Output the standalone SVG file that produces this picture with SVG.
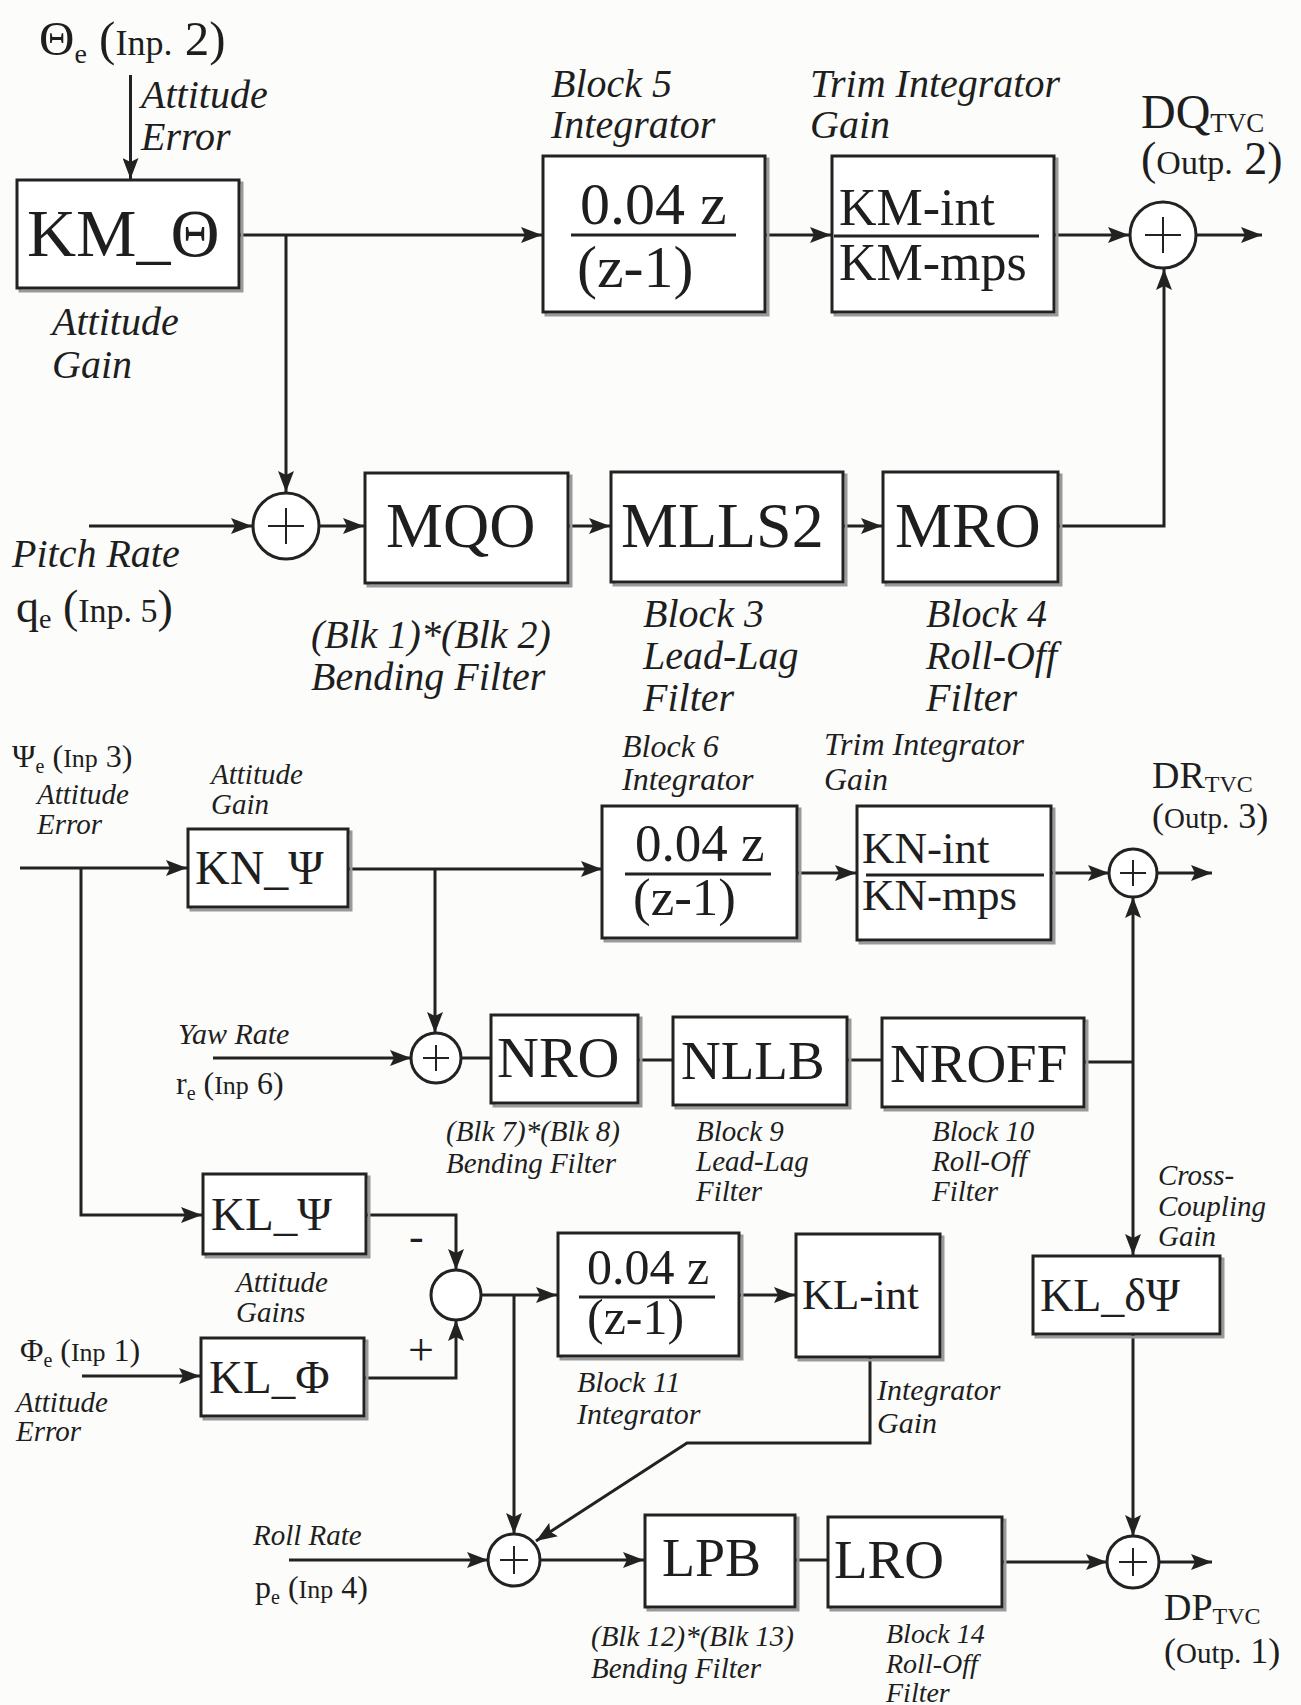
<svg xmlns="http://www.w3.org/2000/svg" width="1301" height="1705" viewBox="0 0 1301 1705">
<style>
.bx{fill:#ffffff;stroke:#222;stroke-width:3}
.sh{fill:none;stroke:#9a9a9a;stroke-width:3}
.ln{fill:none;stroke:#222;stroke-width:3}
.fr{stroke:#222;stroke-width:3}
.sum{fill:#fff;stroke:#222;stroke-width:3}
.pl{stroke:#222;stroke-width:2}
.t{font-family:"Liberation Serif","Times New Roman",serif;fill:#1e1e1e}
.i{font-family:"Liberation Serif","Times New Roman",serif;font-style:italic;fill:#1e1e1e}
</style>
<defs>
<marker id="ar" markerUnits="userSpaceOnUse" markerWidth="22" markerHeight="16" refX="21" refY="8" orient="auto">
<path d="M0,0 L21,8 L0,16 L4,8 z" fill="#222"/>
</marker>
</defs>
<rect x="0" y="0" width="1301" height="1705" fill="#fcfcfa"/>

<g id="connectors">
<!-- top -->
<line class="ln" x1="130.5" y1="75" x2="130.5" y2="179" marker-end="url(#ar)"/>
<line class="ln" x1="239" y1="235" x2="542" y2="235" marker-end="url(#ar)"/>
<line class="ln" x1="286" y1="235" x2="286" y2="492" marker-end="url(#ar)"/>
<line class="ln" x1="765" y1="235" x2="831" y2="235" marker-end="url(#ar)"/>
<line class="ln" x1="1054" y1="235" x2="1129" y2="235" marker-end="url(#ar)"/>
<line class="ln" x1="1197" y1="235" x2="1262" y2="235" marker-end="url(#ar)"/>
<polyline class="ln" points="1058,526 1164,526 1164,269" marker-end="url(#ar)"/>
<!-- pitch -->
<line class="ln" x1="89" y1="526" x2="252" y2="526" marker-end="url(#ar)"/>
<line class="ln" x1="320" y1="526" x2="364" y2="526" marker-end="url(#ar)"/>
<line class="ln" x1="568" y1="526" x2="610" y2="526" marker-end="url(#ar)"/>
<line class="ln" x1="843" y1="526" x2="882" y2="526" marker-end="url(#ar)"/>
<!-- yaw -->
<line class="ln" x1="20" y1="868" x2="187" y2="868" marker-end="url(#ar)"/>
<polyline class="ln" points="81,868 81,1215 202,1215" marker-end="url(#ar)"/>
<line class="ln" x1="348" y1="869" x2="602" y2="869" marker-end="url(#ar)"/>
<line class="ln" x1="435" y1="869" x2="435" y2="1033" marker-end="url(#ar)"/>
<line class="ln" x1="797" y1="873" x2="856" y2="873" marker-end="url(#ar)"/>
<line class="ln" x1="1051" y1="873" x2="1109" y2="873" marker-end="url(#ar)"/>
<line class="ln" x1="1157" y1="873" x2="1212" y2="873" marker-end="url(#ar)"/>
<line class="ln" x1="213" y1="1058" x2="411" y2="1058" marker-end="url(#ar)"/>
<line class="ln" x1="461" y1="1058" x2="491" y2="1058"/>
<line class="ln" x1="638" y1="1060" x2="673" y2="1060"/>
<line class="ln" x1="847" y1="1060" x2="882" y2="1060"/>
<line class="ln" x1="1084" y1="1062" x2="1133" y2="1062"/>
<line class="ln" x1="1133" y1="1062" x2="1133" y2="897" marker-end="url(#ar)"/>
<line class="ln" x1="1133" y1="1062" x2="1133" y2="1255" marker-end="url(#ar)"/>
<!-- roll -->
<polyline class="ln" points="366,1215 456,1215 456,1270" marker-end="url(#ar)"/>
<polyline class="ln" points="364,1378 456,1378 456,1320" marker-end="url(#ar)"/>
<line class="ln" x1="82" y1="1376" x2="200" y2="1376" marker-end="url(#ar)"/>
<line class="ln" x1="481" y1="1295" x2="557" y2="1295" marker-end="url(#ar)"/>
<line class="ln" x1="514" y1="1295" x2="514" y2="1534" marker-end="url(#ar)"/>
<line class="ln" x1="740" y1="1295" x2="795" y2="1295" marker-end="url(#ar)"/>
<polyline class="ln" points="870,1357 870,1443 687,1443 536,1541" marker-end="url(#ar)"/>
<line class="ln" x1="289" y1="1560" x2="488" y2="1560" marker-end="url(#ar)"/>
<line class="ln" x1="540" y1="1560" x2="644" y2="1560" marker-end="url(#ar)"/>
<line class="ln" x1="795" y1="1560" x2="828" y2="1560"/>
<line class="ln" x1="1002" y1="1562" x2="1107" y2="1562" marker-end="url(#ar)"/>
<line class="ln" x1="1159" y1="1562" x2="1212" y2="1562" marker-end="url(#ar)"/>
<line class="ln" x1="1133" y1="1334" x2="1133" y2="1536" marker-end="url(#ar)"/>
</g>

<g id="in-theta">
<text class="t" x="39" y="55"><tspan font-size="49">Θ</tspan><tspan font-size="28" dy="8">e</tspan><tspan font-size="49" dy="-8"> (</tspan><tspan font-size="36">Inp.</tspan><tspan font-size="49"> 2)</tspan></text>
<text class="i" font-size="40" x="141" y="108">Attitude</text>
<text class="i" font-size="40" x="141" y="150">Error</text>
</g>

<g id="KM_Theta">
<rect class="sh" x="20" y="183" width="222" height="108"/>
<rect class="bx" x="17" y="180" width="222" height="108"/>
<text class="t" font-size="68" x="27" y="256">KM_Θ</text>
<text class="i" font-size="40" x="52" y="335">Attitude</text>
<text class="i" font-size="40" x="52" y="378">Gain</text>
</g>

<g id="block5">
<rect class="sh" x="546" y="159" width="222" height="156"/>
<rect class="bx" x="543" y="156" width="222" height="156"/>
<text class="t" font-size="60" x="580" y="224">0.04 z</text>
<line class="fr" x1="571" y1="235" x2="736" y2="235"/>
<text class="t" font-size="60" x="577" y="287">(z-1)</text>
<text class="i" font-size="40" x="551" y="97">Block 5</text>
<text class="i" font-size="40" x="551" y="138">Integrator</text>
</g>

<g id="KM_int">
<rect class="sh" x="835" y="159" width="222" height="156"/>
<rect class="bx" x="832" y="156" width="222" height="156"/>
<text class="t" font-size="52" x="839" y="225">KM-int</text>
<line class="fr" x1="834" y1="236" x2="1039" y2="236"/>
<text class="t" font-size="52" x="839" y="280">KM-mps</text>
<text class="i" font-size="40" x="810" y="97">Trim Integrator</text>
<text class="i" font-size="40" x="810" y="138">Gain</text>
</g>

<g id="sum-DQ">
<circle class="sum" cx="1163" cy="235" r="33"/>
<line class="pl" x1="1145" y1="235" x2="1181" y2="235"/>
<line class="pl" x1="1163" y1="217" x2="1163" y2="253"/>
<text class="t" x="1141" y="128"><tspan font-size="48">DQ</tspan><tspan font-size="27" dy="4">TVC</tspan></text>
<text class="t" x="1141" y="174"><tspan font-size="46">(</tspan><tspan font-size="34">Outp.</tspan><tspan font-size="46"> 2)</tspan></text>
</g>

<g id="sum-pitch">
<circle class="sum" cx="286" cy="526" r="33"/>
<line class="pl" x1="268" y1="526" x2="304" y2="526"/>
<line class="pl" x1="286" y1="508" x2="286" y2="544"/>
<text class="i" font-size="40" x="12" y="567">Pitch Rate</text>
<text class="t" x="16" y="622"><tspan font-size="46">q</tspan><tspan font-size="28" dy="6">e</tspan><tspan font-size="46" dy="-6"> (</tspan><tspan font-size="34">Inp. 5</tspan><tspan font-size="46">)</tspan></text>
</g>

<g id="MQO">
<rect class="sh" x="368" y="476" width="203" height="110"/>
<rect class="bx" x="365" y="473" width="203" height="110"/>
<text class="t" font-size="64" x="386" y="547">MQO</text>
<text class="i" font-size="40" x="311" y="648">(Blk 1)*(Blk 2)</text>
<text class="i" font-size="40" x="311" y="690">Bending Filter</text>
</g>

<g id="MLLS2">
<rect class="sh" x="614" y="475" width="232" height="110"/>
<rect class="bx" x="611" y="472" width="232" height="110"/>
<text class="t" font-size="64" x="621" y="547">MLLS2</text>
<text class="i" font-size="40" x="643" y="627">Block 3</text>
<text class="i" font-size="40" x="643" y="669">Lead-Lag</text>
<text class="i" font-size="40" x="643" y="711">Filter</text>
</g>

<g id="MRO">
<rect class="sh" x="886" y="475" width="175" height="110"/>
<rect class="bx" x="883" y="472" width="175" height="110"/>
<text class="t" font-size="64" x="895" y="547">MRO</text>
<text class="i" font-size="40" x="926" y="627">Block 4</text>
<text class="i" font-size="40" x="926" y="669">Roll-Off</text>
<text class="i" font-size="40" x="926" y="711">Filter</text>
</g>

<g id="in-psi">
<text class="t" x="12" y="767"><tspan font-size="32">Ψ</tspan><tspan font-size="20" dy="6">e</tspan><tspan font-size="32" dy="-6"> (</tspan><tspan font-size="26">Inp</tspan><tspan font-size="32"> 3)</tspan></text>
<text class="i" font-size="29" x="37" y="804">Attitude</text>
<text class="i" font-size="29" x="37" y="834">Error</text>
</g>

<g id="KN_Psi">
<rect class="sh" x="191" y="832" width="160" height="78"/>
<rect class="bx" x="188" y="829" width="160" height="78"/>
<text class="t" font-size="48" x="195" y="884">KN_Ψ</text>
<text class="i" font-size="29" x="211" y="784">Attitude</text>
<text class="i" font-size="29" x="211" y="814">Gain</text>
</g>

<g id="block6">
<rect class="sh" x="605" y="809" width="195" height="132"/>
<rect class="bx" x="602" y="806" width="195" height="132"/>
<text class="t" font-size="53" x="635" y="861">0.04 z</text>
<line class="fr" x1="625" y1="874" x2="771" y2="874"/>
<text class="t" font-size="53" x="633" y="915">(z-1)</text>
<text class="i" font-size="32" x="622" y="757">Block 6</text>
<text class="i" font-size="32" x="622" y="790">Integrator</text>
</g>

<g id="KN_int">
<rect class="sh" x="860" y="809" width="194" height="134"/>
<rect class="bx" x="857" y="806" width="194" height="134"/>
<text class="t" font-size="45" x="862" y="863">KN-int</text>
<line class="fr" x1="866" y1="875" x2="1044" y2="875"/>
<text class="t" font-size="45" x="862" y="910">KN-mps</text>
<text class="i" font-size="32" x="824" y="755">Trim Integrator</text>
<text class="i" font-size="32" x="824" y="790">Gain</text>
</g>

<g id="sum-DR">
<circle class="sum" cx="1133" cy="873" r="24"/>
<line class="pl" x1="1120" y1="873" x2="1146" y2="873"/>
<line class="pl" x1="1133" y1="860" x2="1133" y2="886"/>
<text class="t" x="1152" y="788"><tspan font-size="38">DR</tspan><tspan font-size="24" dy="4">TVC</tspan></text>
<text class="t" x="1152" y="828"><tspan font-size="36">(</tspan><tspan font-size="29">Outp.</tspan><tspan font-size="36">  3)</tspan></text>
</g>

<g id="sum-yaw">
<circle class="sum" cx="436" cy="1058" r="25"/>
<line class="pl" x1="423" y1="1058" x2="449" y2="1058"/>
<line class="pl" x1="436" y1="1045" x2="436" y2="1071"/>
<text class="i" font-size="30" x="178" y="1044">Yaw Rate</text>
<text class="t" x="176" y="1094"><tspan font-size="32">r</tspan><tspan font-size="20" dy="6">e</tspan><tspan font-size="32" dy="-6"> (</tspan><tspan font-size="26">Inp</tspan><tspan font-size="32"> 6)</tspan></text>
</g>

<g id="NRO">
<rect class="sh" x="494" y="1018" width="147" height="88"/>
<rect class="bx" x="491" y="1015" width="147" height="88"/>
<text class="t" font-size="58" x="497" y="1077">NRO</text>
<text class="i" font-size="29" x="446" y="1141">(Blk 7)*(Blk 8)</text>
<text class="i" font-size="29" x="446" y="1173">Bending Filter</text>
</g>

<g id="NLLB">
<rect class="sh" x="676" y="1020" width="174" height="88"/>
<rect class="bx" x="673" y="1017" width="174" height="88"/>
<text class="t" font-size="55" x="681" y="1079">NLLB</text>
<text class="i" font-size="29" x="696" y="1141">Block 9</text>
<text class="i" font-size="29" x="696" y="1171">Lead-Lag</text>
<text class="i" font-size="29" x="696" y="1201">Filter</text>
</g>

<g id="NROFF">
<rect class="sh" x="885" y="1021" width="202" height="89"/>
<rect class="bx" x="882" y="1018" width="202" height="89"/>
<text class="t" font-size="55" x="890" y="1082">NROFF</text>
<text class="i" font-size="29" x="932" y="1141">Block 10</text>
<text class="i" font-size="29" x="932" y="1171">Roll-Off</text>
<text class="i" font-size="29" x="932" y="1201">Filter</text>
</g>

<g id="KL_dPsi">
<rect class="sh" x="1036" y="1259" width="187" height="78"/>
<rect class="bx" x="1033" y="1256" width="187" height="78"/>
<text class="t" font-size="46" x="1040" y="1311">KL_δΨ</text>
<text class="i" font-size="29" x="1158" y="1185">Cross-</text>
<text class="i" font-size="29" x="1158" y="1216">Coupling</text>
<text class="i" font-size="29" x="1158" y="1246">Gain</text>
</g>

<g id="KL_Psi">
<rect class="sh" x="206" y="1177" width="163" height="80"/>
<rect class="bx" x="203" y="1174" width="163" height="80"/>
<text class="t" font-size="47" x="211" y="1230">KL_Ψ</text>
<text class="t" font-size="44" x="409" y="1251">-</text>
</g>

<g id="KL_Phi">
<rect class="sh" x="204" y="1341" width="163" height="78"/>
<rect class="bx" x="201" y="1338" width="163" height="78"/>
<text class="t" font-size="47" x="209" y="1393">KL_Φ</text>
<text class="t" font-size="46" x="408" y="1365">+</text>
<text class="i" font-size="29" x="236" y="1292">Attitude</text>
<text class="i" font-size="29" x="236" y="1322">Gains</text>
</g>

<g id="in-phi">
<text class="t" x="20" y="1361"><tspan font-size="32">Φ</tspan><tspan font-size="20" dy="6">e</tspan><tspan font-size="32" dy="-6"> (</tspan><tspan font-size="26">Inp</tspan><tspan font-size="32"> 1)</tspan></text>
<text class="i" font-size="29" x="16" y="1412">Attitude</text>
<text class="i" font-size="29" x="16" y="1441">Error</text>
</g>

<g id="sum-att">
<circle class="sum" cx="456" cy="1295" r="25"/>
</g>

<g id="block11">
<rect class="sh" x="561" y="1236" width="181" height="123"/>
<rect class="bx" x="558" y="1233" width="181" height="123"/>
<text class="t" font-size="50" x="587" y="1284">0.04 z</text>
<line class="fr" x1="579" y1="1297" x2="715" y2="1297"/>
<text class="t" font-size="50" x="587" y="1334">(z-1)</text>
<text class="i" font-size="30" x="577" y="1392">Block 11</text>
<text class="i" font-size="30" x="577" y="1424">Integrator</text>
</g>

<g id="KL_int">
<rect class="sh" x="799" y="1237" width="144" height="123"/>
<rect class="bx" x="796" y="1234" width="144" height="123"/>
<text class="t" font-size="43" x="802" y="1309">KL-int</text>
<text class="i" font-size="30" x="877" y="1400">Integrator</text>
<text class="i" font-size="30" x="877" y="1433">Gain</text>
</g>

<g id="sum-roll">
<circle class="sum" cx="514" cy="1560" r="26"/>
<line class="pl" x1="500" y1="1560" x2="528" y2="1560"/>
<line class="pl" x1="514" y1="1546" x2="514" y2="1574"/>
<text class="i" font-size="29" x="253" y="1545">Roll Rate</text>
<text class="t" x="255" y="1598"><tspan font-size="32">p</tspan><tspan font-size="20" dy="6">e</tspan><tspan font-size="32" dy="-6"> (</tspan><tspan font-size="26">Inp</tspan><tspan font-size="32"> 4)</tspan></text>
</g>

<g id="LPB">
<rect class="sh" x="648" y="1518" width="150" height="92"/>
<rect class="bx" x="645" y="1515" width="150" height="92"/>
<text class="t" font-size="54" x="662" y="1576">LPB</text>
<text class="i" font-size="29" x="591" y="1646">(Blk 12)*(Blk 13)</text>
<text class="i" font-size="29" x="591" y="1678">Bending Filter</text>
</g>

<g id="LRO">
<rect class="sh" x="831" y="1520" width="174" height="90"/>
<rect class="bx" x="828" y="1517" width="174" height="90"/>
<text class="t" font-size="55" x="834" y="1578">LRO</text>
<text class="i" font-size="28" x="886" y="1643">Block 14</text>
<text class="i" font-size="28" x="886" y="1673">Roll-Off</text>
<text class="i" font-size="28" x="886" y="1702">Filter</text>
</g>

<g id="sum-DP">
<circle class="sum" cx="1133" cy="1562" r="26"/>
<line class="pl" x1="1119" y1="1562" x2="1147" y2="1562"/>
<line class="pl" x1="1133" y1="1548" x2="1133" y2="1576"/>
<text class="t" x="1164" y="1620"><tspan font-size="38">DP</tspan><tspan font-size="24" dy="4">TVC</tspan></text>
<text class="t" x="1164" y="1663"><tspan font-size="36">(</tspan><tspan font-size="29">Outp.</tspan><tspan font-size="36"> 1)</tspan></text>
</g>
</svg>
